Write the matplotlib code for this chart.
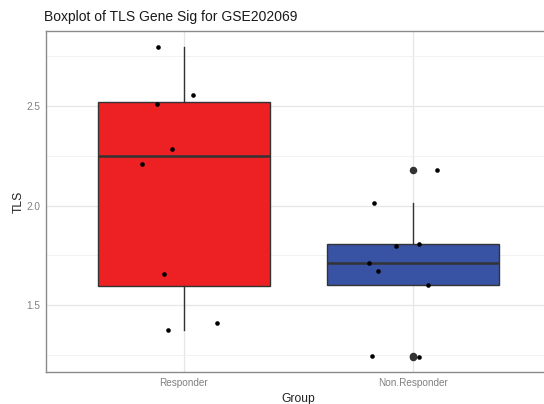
import matplotlib
matplotlib.use("Agg")
import matplotlib.pyplot as plt
import numpy as np

plt.rcParams['font.family'] = ['Liberation Sans', 'DejaVu Sans']

# values
groups = ['Responder', 'Non.Responder']
responder = [2.80, 2.554, 2.512, 2.286, 2.209, 1.657, 1.376, 1.411]
non_responder = [2.1775, 2.014, 1.799, 1.809, 1.714, 1.6725, 1.604, 1.2475, 1.2425]
# horizontal jitter of each dot (in group units)
jit_resp = [-0.113, 0.042, -0.117, -0.049, -0.18, -0.086, -0.068, 0.143]
jit_non = [0.103, -0.17, -0.074, 0.023, -0.194, -0.155, 0.062, -0.181, 0.023]
fills = ['#ED2024', '#3953A4']

fig = plt.figure(figsize=(5.44, 4.04), dpi=100)
# panel runs slightly past the right edge, like the cropped original
ax = fig.add_axes([46/544, 32/404, 505/544, 341/404])

data = [responder, non_responder]
pos = [1, 2]
edge = '#333333'
bp = ax.boxplot(data, positions=pos, widths=0.75, whis=1.5, patch_artist=True,
                showcaps=False,
                boxprops=dict(edgecolor=edge, linewidth=1.0),
                whiskerprops=dict(color=edge, linewidth=1.0),
                medianprops=dict(color=edge, linewidth=1.8),
                flierprops=dict(marker='o', markerfacecolor=edge, markeredgecolor=edge,
                                markersize=4.4),
                zorder=2)
for patch, c in zip(bp['boxes'], fills):
    patch.set_facecolor(c)

for p, vals, jit in zip(pos, data, [jit_resp, jit_non]):
    ax.scatter(np.array(jit) + p, vals, s=11, color='black', zorder=3, linewidths=0)

allv = np.concatenate([responder, non_responder])
rng = allv.max() - allv.min()
ax.set_ylim(allv.min() - 0.05 * rng, allv.max() + 0.05 * rng)
ax.set_xlim(0.4, 2.6)

ax.set_xticks(pos)
ax.set_xticklabels(groups)
ax.set_yticks([1.5, 2.0, 2.5])
ax.set_yticks([1.25, 1.75, 2.25, 2.75], minor=True)
ax.set_yticklabels(['1.5', '2.0', '2.5'])

ax.grid(which='major', color='#E6E6E6', linewidth=0.9, zorder=0)
ax.grid(which='minor', axis='y', color='#F0F0F0', linewidth=0.6, zorder=0)
ax.set_axisbelow(True)

for s in ax.spines.values():
    s.set_color('#8A8A8A')
    s.set_linewidth(1.0)

ax.tick_params(axis='both', which='major', labelsize=7.2, labelcolor='#808080',
               length=0, pad=4)
ax.tick_params(axis='y', which='minor', length=0)

ax.set_xlabel('Group', fontsize=8.7, color='#222222', labelpad=4)
ax.set_ylabel('TLS', fontsize=8.7, color='#222222', labelpad=1)
ax.set_title('Boxplot of TLS Gene Sig for GSE202069', loc='left', fontsize=10,
             color='#1a1a1a', pad=7, x=-0.004)

fig.savefig('out.png', dpi=100)
